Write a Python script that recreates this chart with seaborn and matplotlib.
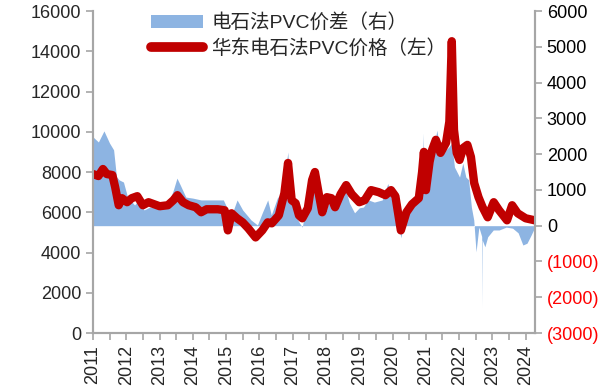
import pandas as pd
import seaborn as sns
import matplotlib.pyplot as plt
import matplotlib.dates as mdates
from matplotlib.patches import Patch
from matplotlib.lines import Line2D

# 华东电石法PVC价格（左轴）
price_dates = ['2011-01-01', '2011-03-01', '2011-04-20', '2011-06-01', '2011-08-01', '2011-09-01',
               '2011-10-10', '2011-11-15', '2012-01-10', '2012-03-01', '2012-05-01', '2012-07-01',
               '2012-09-01', '2013-01-01', '2013-04-01', '2013-06-01', '2013-07-15', '2013-09-15',
               '2013-11-15', '2014-02-01', '2014-04-01', '2014-06-01', '2014-10-01', '2014-12-15',
               '2015-01-20', '2015-03-01', '2015-05-01', '2015-07-01', '2015-09-01', '2015-11-20',
               '2016-02-01', '2016-04-01', '2016-05-15', '2016-08-01', '2016-10-01', '2016-11-10',
               '2016-12-20', '2017-02-01', '2017-03-10', '2017-04-15', '2017-06-15', '2017-08-01',
               '2017-09-01', '2017-10-10', '2017-11-20', '2018-01-10', '2018-03-01', '2018-04-10',
               '2018-06-10', '2018-08-10', '2018-10-10', '2019-01-01', '2019-03-01', '2019-05-10',
               '2019-08-01', '2019-10-15', '2019-12-15', '2020-02-01', '2020-04-01', '2020-06-01',
               '2020-08-01', '2020-10-15', '2020-11-20', '2020-12-10', '2021-01-01', '2021-02-10',
               '2021-03-10', '2021-04-20', '2021-06-10', '2021-08-10', '2021-09-15', '2021-10-12',
               '2021-11-05', '2021-12-05', '2022-01-05', '2022-02-15', '2022-04-01', '2022-05-10',
               '2022-06-15', '2022-08-01', '2022-09-15', '2022-11-10', '2023-01-15', '2023-03-15',
               '2023-06-10', '2023-08-05', '2023-10-05', '2024-01-01', '2024-04-10']
price_values = [7900, 7800, 8150, 7900, 7850, 7250,
                6350, 6700, 6500, 6700, 6800, 6350,
                6500, 6300, 6350, 6600, 6850, 6500,
                6350, 6250, 6000, 6150, 6150, 6100,
                5100, 5950, 5700, 5500, 5200, 4750,
                5100, 5500, 5450, 5850, 6950, 8450,
                6600, 6450, 5850, 5700, 6200, 7600,
                8000, 7000, 6000, 6750, 6700, 6250,
                6900, 7350, 6900, 6500, 6600, 7100,
                7000, 6850, 7100, 6800, 5100, 6000,
                6400, 6700, 8000, 9000, 7100, 8500,
                9100, 9600, 8950, 9450, 10500, 14500,
                10100, 8950, 8600, 9200, 9350, 8750,
                7450, 6750, 6250, 5750, 6500, 6100,
                5600, 6350, 5950, 5700, 5600]

# 电石法PVC价差（右轴）
spread_dates = ['2011-01-01', '2011-03-01', '2011-05-01', '2011-07-01', '2011-08-15', '2011-09-15',
                '2011-10-15', '2011-12-01', '2012-01-15', '2012-04-01', '2012-05-15', '2012-07-15',
                '2012-09-15', '2013-01-01', '2013-04-01', '2013-06-01', '2013-07-10', '2013-08-15',
                '2013-10-15', '2014-01-01', '2014-04-01', '2014-08-01', '2014-12-01', '2015-01-10',
                '2015-02-10', '2015-05-01', '2015-07-01', '2015-10-01', '2015-12-10', '2016-02-01',
                '2016-04-01', '2016-05-10', '2016-07-15', '2016-09-15', '2016-11-08', '2016-11-20',
                '2017-01-01', '2017-02-10', '2017-03-10', '2017-04-15', '2017-06-10', '2017-08-10',
                '2017-09-01', '2017-10-15', '2017-12-10', '2018-02-10', '2018-04-10', '2018-06-10',
                '2018-08-05', '2018-09-15', '2018-11-10', '2019-01-01', '2019-02-15', '2019-04-10',
                '2019-06-15', '2019-09-10', '2019-11-10', '2020-01-01', '2020-02-10', '2020-04-01',
                '2020-05-10', '2020-07-01', '2020-08-15', '2020-10-01', '2020-11-15', '2020-12-01',
                '2020-12-08', '2021-01-01', '2021-03-01', '2021-05-01', '2021-06-10', '2021-08-10',
                '2021-09-10', '2021-10-08', '2021-10-12', '2021-10-16', '2021-11-10', '2022-01-05',
                '2022-02-10', '2022-03-15', '2022-04-15', '2022-05-15', '2022-06-10', '2022-07-05',
                '2022-08-05', '2022-09-05', '2022-09-08', '2022-09-11', '2022-10-10', '2022-11-10',
                '2023-01-10', '2023-03-15', '2023-06-01', '2023-08-10', '2023-10-10', '2023-12-01',
                '2024-01-15', '2024-03-01', '2024-04-10']
spread_values = [2480, 2340, 2650, 2310, 2120, 1370,
                 1280, 1220, 800, 580, 720, 440,
                 520, 520, 580, 1000, 1330, 1140,
                 800, 770, 720, 720, 720, 500,
                 160, 720, 440, 160, 20, 360,
                 720, 300, 770, 1000, 2060, 1400,
                 800, 240, 100, -40, 720, 1360,
                 1600, 720, 300, 720, 520, 720,
                 1000, 630, 360, 500, 520, 720,
                 660, 720, 1180, 630, 500, -340,
                 240, 520, 630, 800, 900, 2590,
                 1100, 900, 1750, 2670, 2030, 2120,
                 2200, 2300, 5470, 2200, 1640, 1360,
                 1750, 1360, 1280, 520, 160, -730,
                 -40, -300, -2270, -400, -590, -310,
                 -120, -120, -40, -70, -200, -540,
                 -490, -260, -40]

price = pd.DataFrame({'date': pd.to_datetime(price_dates), 'value': price_values})
spread = pd.DataFrame({'date': pd.to_datetime(spread_dates), 'value': spread_values})

sns.set_style('ticks')
plt.rcParams['font.family'] = ['Liberation Sans', 'Noto Sans CJK SC', 'DejaVu Sans']

blue = '#8DB4E2'
red = '#C00000'
grey = '#A6A6A6'

fig = plt.figure(figsize=(6.16, 3.87), dpi=100)
ax = fig.add_axes([0.151, 0.1395, 0.7175, 0.832])
ax2 = ax.twinx()

# 价差面积图在右轴
ax2.fill_between(spread['date'], 0, spread['value'], color=blue, lw=0)
ax2.set_ylim(-3000, 6000)
ax2.set_yticks(range(-3000, 6001, 1000))
ax2.set_yticklabels([f'({abs(v)})' if v < 0 else str(v) for v in range(-3000, 6001, 1000)])
for lbl, v in zip(ax2.get_yticklabels(), range(-3000, 6001, 1000)):
    lbl.set_color('#FF0000' if v < 0 else 'black')

# 价格线在左轴，放到上层
sns.lineplot(data=price, x='date', y='value', ax=ax, color=red, lw=6, solid_capstyle='round')
ax.set_zorder(ax2.get_zorder() + 1)
ax.patch.set_visible(False)
ax.set_ylim(0, 16000)
ax.set_yticks(range(0, 16001, 2000))
ax.set_xlim(pd.Timestamp('2011-01-01'), pd.Timestamp('2024-04-12'))
ax.xaxis.set_major_locator(mdates.YearLocator())
ax.xaxis.set_minor_locator(mdates.MonthLocator(bymonth=7))
ax.xaxis.set_major_formatter(mdates.DateFormatter('%Y'))
ax.set_xlabel('')
ax.set_ylabel('')
plt.setp(ax.get_xticklabels(), rotation=90)

for a in (ax, ax2):
    a.tick_params(axis='both', which='both', labelsize=13, color=grey, length=5, width=1.2)
    for s in a.spines.values():
        s.set_color(grey)
        s.set_linewidth(1.5)
    a.spines['top'].set_visible(False)

handles = [Patch(facecolor=blue, edgecolor='none'),
           Line2D([0], [0], color=red, lw=7, solid_capstyle='round')]
labels = ['电石法PVC价差（右）', '华东电石法PVC价格（左）']
ax.legend(handles, labels, loc='upper left', bbox_to_anchor=(0.10, 1.035), frameon=False,
          fontsize=14, handlelength=2.7, handleheight=0.6, labelspacing=0.35,
          handletextpad=0.4, borderpad=0.2)

fig.savefig('out.png', dpi=100)
